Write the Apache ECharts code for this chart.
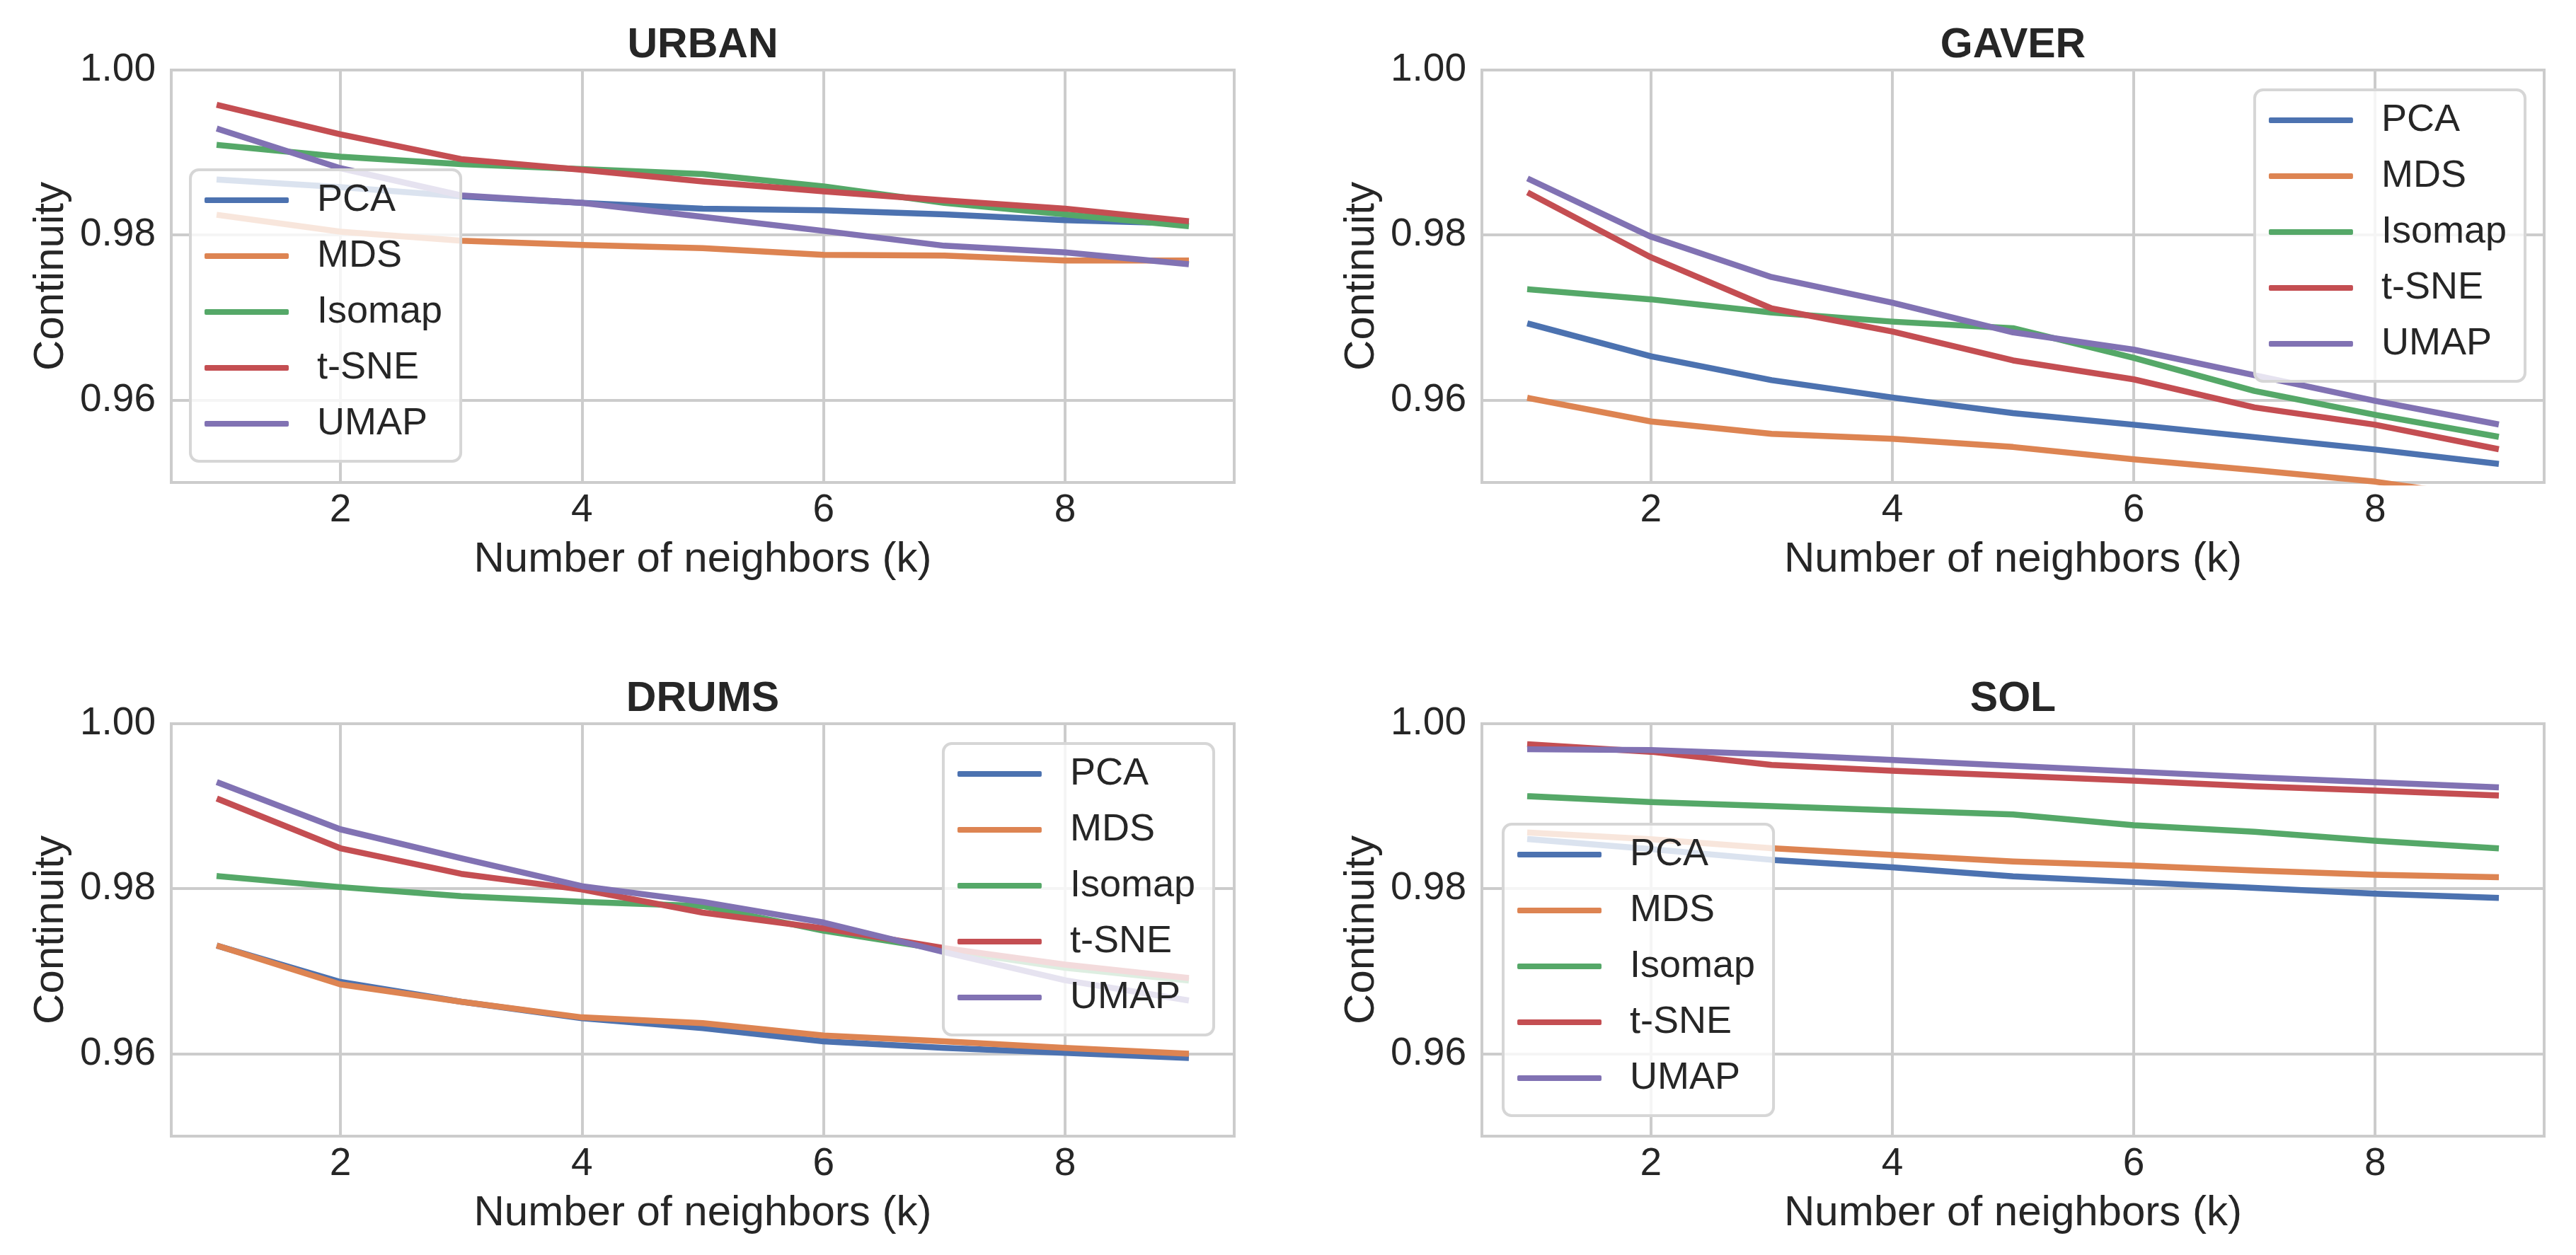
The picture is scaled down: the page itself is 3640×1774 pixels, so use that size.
<!DOCTYPE html>
<html>
<head>
<meta charset="utf-8">
<script src="https://cdn.jsdelivr.net/npm/echarts@6/dist/echarts.min.js"></script>
<style>
html,body{margin:0;padding:0;background:#fff;}
#c{width:3640px;height:1774px;}
</style>
</head>
<body>
<div id="c"></div>
<script>
// ---- data ----
var neighbors = [1, 2, 3, 4, 5, 6, 7, 8, 9];
var methods = ['PCA', 'MDS', 'Isomap', 't-SNE', 'UMAP'];
var panels = ['URBAN', 'GAVER', 'DRUMS', 'SOL'];
var yTicks = [0.96, 0.98, 1.00];
var xTicks = [2, 4, 6, 8];

var urbanPCA    = [0.9867, 0.9858, 0.9847, 0.9839, 0.9832, 0.9830, 0.9825, 0.9818, 0.9814];
var urbanMDS    = [0.9824, 0.9804, 0.9793, 0.9788, 0.9784, 0.9776, 0.9775, 0.9769, 0.9769];
var urbanIsomap = [0.9909, 0.9895, 0.9886, 0.9880, 0.9874, 0.9859, 0.9839, 0.9825, 0.9811];
var urbanTSNE   = [0.9957, 0.9922, 0.9892, 0.9879, 0.9865, 0.9853, 0.9842, 0.9832, 0.9817];
var urbanUMAP   = [0.9928, 0.9881, 0.9848, 0.9839, 0.9822, 0.9805, 0.9787, 0.9779, 0.9765];

var gaverPCA    = [0.9692, 0.9653, 0.9624, 0.9603, 0.9584, 0.9570, 0.9555, 0.9540, 0.9523];
var gaverMDS    = [0.9602, 0.9574, 0.9559, 0.9553, 0.9543, 0.9528, 0.9515, 0.9501, 0.9480];
var gaverIsomap = [0.9734, 0.9722, 0.9706, 0.9695, 0.9687, 0.9651, 0.9611, 0.9582, 0.9556];
var gaverTSNE   = [0.9850, 0.9773, 0.9711, 0.9683, 0.9648, 0.9625, 0.9591, 0.9570, 0.9541];
var gaverUMAP   = [0.9867, 0.9798, 0.9749, 0.9718, 0.9682, 0.9661, 0.9630, 0.9599, 0.9571];

var drumsPCA    = [0.9730, 0.9687, 0.9663, 0.9643, 0.9631, 0.9615, 0.9607, 0.9601, 0.9595];
var drumsMDS    = [0.9730, 0.9684, 0.9663, 0.9644, 0.9637, 0.9622, 0.9615, 0.9607, 0.9600];
var drumsIsomap = [0.9815, 0.9802, 0.9791, 0.9784, 0.9779, 0.9749, 0.9726, 0.9704, 0.9689];
var drumsTSNE   = [0.9908, 0.9849, 0.9818, 0.9799, 0.9771, 0.9752, 0.9728, 0.9708, 0.9692];
var drumsUMAP   = [0.9928, 0.9872, 0.9837, 0.9803, 0.9784, 0.9759, 0.9723, 0.9689, 0.9665];

var solPCA      = [0.9860, 0.9848, 0.9835, 0.9826, 0.9815, 0.9808, 0.9801, 0.9794, 0.9789];
var solMDS      = [0.9868, 0.9860, 0.9849, 0.9841, 0.9833, 0.9828, 0.9822, 0.9817, 0.9814];
var solIsomap   = [0.9912, 0.9905, 0.9900, 0.9895, 0.9890, 0.9877, 0.9869, 0.9858, 0.9849];
var solTSNE     = [0.9975, 0.9966, 0.9950, 0.9943, 0.9937, 0.9931, 0.9924, 0.9919, 0.9913];
var solUMAP     = [0.9969, 0.9968, 0.9963, 0.9956, 0.9949, 0.9942, 0.9935, 0.9929, 0.9923];

var panelData = [
  [urbanPCA, urbanMDS, urbanIsomap, urbanTSNE, urbanUMAP],
  [gaverPCA, gaverMDS, gaverIsomap, gaverTSNE, gaverUMAP],
  [drumsPCA, drumsMDS, drumsIsomap, drumsTSNE, drumsUMAP],
  [solPCA, solMDS, solIsomap, solTSNE, solUMAP]
];

// ---- styling / layout ----
var colors = ['#4c72b0', '#dd8452', '#55a868', '#c44e52', '#8172b3'];
var FONT = 'Liberation Sans, Arial, sans-serif';
var TXT = '#262626';
var GRIDC = '#cccccc';
var NONE = 'rgba(0,0,0,0)';
var grids = [
  {left: 242, top: 99, width: 1502, height: 583},
  {left: 2094, top: 99, width: 1501, height: 583},
  {left: 242, top: 1023, width: 1502, height: 583},
  {left: 2094, top: 1023, width: 1501, height: 583}
];
var legendPos = [
  {left: 269, top: 240},
  {right: 72, top: 127},
  {right: 1925, top: 1051},
  {left: 2124, top: 1165}
];
// x axis runs 0.6..9.4 in steps of 0.2 (ticks counted from min); grid lines only at 2,4,6,8
var X_MIN = 0.6, X_MAX = 9.4, X_STEP = 0.2;
var xLineColors = [];
for (var i = 0; i < 10; i++) xLineColors.push(i === 7 ? GRIDC : NONE);
// y axis runs 0.95..1.00 in steps of 0.01; grid lines only at 0.96, 0.98, 1.00
var Y_MIN = 0.95, Y_MAX = 1.0, Y_STEP = 0.01;
var yLineColors = [NONE, GRIDC];

function near(v, arr) {
  for (var i = 0; i < arr.length; i++) if (Math.abs(v - arr[i]) < 1e-6) return true;
  return false;
}

var option = {
  backgroundColor: '#ffffff',
  animation: false,
  title: [], grid: [], xAxis: [], yAxis: [], legend: [], series: []
};

panels.forEach(function (name, p) {
  var g = grids[p];
  option.grid.push({left: g.left, top: g.top, width: g.width, height: g.height,
    show: true, borderColor: GRIDC, borderWidth: 4, backgroundColor: 'transparent'});
  option.title.push({text: name, left: g.left + g.width / 2, top: g.top - 64, textAlign: 'center', padding: 0,
    textStyle: {fontFamily: FONT, fontWeight: 'bold', fontSize: 59, color: TXT}});
  option.xAxis.push({gridIndex: p, type: 'value', min: X_MIN, max: X_MAX, interval: X_STEP,
    axisLine: {show: false}, axisTick: {show: false},
    axisLabel: {fontFamily: FONT, fontSize: 55, color: TXT, margin: 12, hideOverlap: false,
      formatter: function (v) { return near(v, xTicks) ? String(Math.round(v)) : ''; }},
    splitLine: {show: true, lineStyle: {color: xLineColors, width: 4}},
    name: 'Number of neighbors (k)', nameLocation: 'middle', nameGap: 79,
    nameTextStyle: {fontFamily: FONT, fontSize: 60, color: TXT}});
  option.yAxis.push({gridIndex: p, type: 'value', min: Y_MIN, max: Y_MAX, interval: Y_STEP,
    axisLine: {show: false}, axisTick: {show: false},
    axisLabel: {fontFamily: FONT, fontSize: 55, color: TXT, margin: 22, hideOverlap: false,
      formatter: function (v) { return near(v, yTicks) ? v.toFixed(2) : ''; }},
    splitLine: {show: true, lineStyle: {color: yLineColors, width: 4}},
    name: 'Continuity', nameLocation: 'middle', nameGap: 140, nameRotate: 90,
    nameTextStyle: {fontFamily: FONT, fontSize: 60, color: TXT}});
  var lg = {data: methods, orient: 'vertical', icon: 'roundRect', itemWidth: 119, itemHeight: 8, itemGap: 25,
    padding: [16, 26, 26, 20], backgroundColor: 'rgba(255,255,255,0.8)', borderColor: '#d6d6d6',
    borderWidth: 4, borderRadius: 12, selectedMode: false,
    textStyle: {fontFamily: FONT, fontSize: 54, color: TXT, padding: [0, 0, 0, 35]}};
  var lp = legendPos[p];
  for (var k in lp) lg[k] = lp[k];
  option.legend.push(lg);
  methods.forEach(function (m, s) {
    var vals = panelData[p][s];
    option.series.push({name: m, type: 'line', xAxisIndex: p, yAxisIndex: p,
      data: neighbors.map(function (x, i) { return [x, vals[i]]; }),
      showSymbol: false, symbol: 'none', clip: true, color: colors[s],
      lineStyle: {width: 8.5, color: colors[s], cap: 'square', join: 'round'},
      emphasis: {disabled: true}});
  });
});

var chart = echarts.init(document.getElementById('c'));
chart.setOption(option);
</script>
</body>
</html>
